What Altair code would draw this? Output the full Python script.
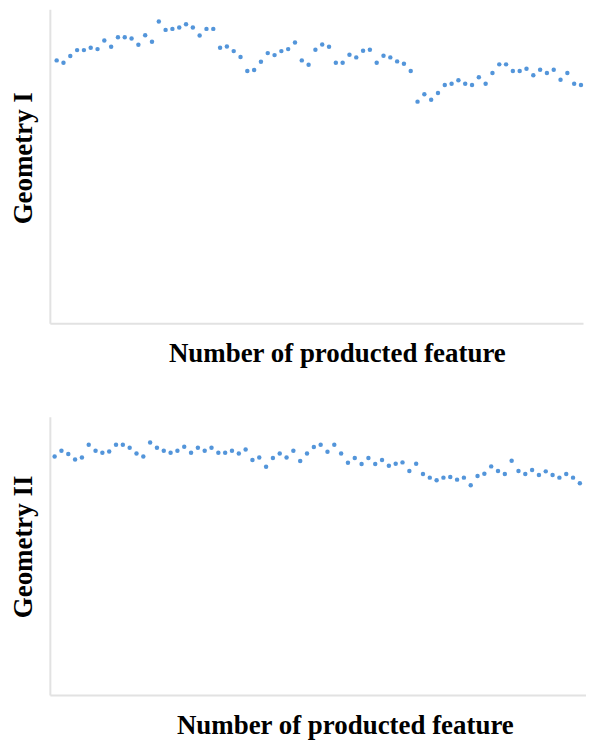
import altair as alt
import pandas as pd

geom1 = [263.7, 261.3, 268, 274, 274, 276.3, 275, 283.7, 277.3, 287,
         287, 285.7, 279.3, 289, 282.3, 302.7, 294.3, 295.3, 296.7, 300,
         296.7, 288.7, 295.3, 295.3, 276.3, 277.7, 273, 267, 253, 254,
         262.3, 271, 269, 273, 275, 281.7, 263.7, 259.3, 274.3, 279.7,
         277.3, 261.3, 261.3, 269.3, 266.7, 273.3, 274.3, 261.3, 268.3, 266.7,
         262.7, 260.3, 253, 222.3, 229.7, 224.3, 231, 239, 240.3, 243.7,
         240.3, 239, 246.7, 240.3, 251, 259.7, 259.7, 253, 253, 255.3,
         248.7, 254.3, 251, 254.3, 244.3, 251, 240.3, 239]

# Panel II measurements
geom2 = [244.3, 250, 246.7, 241.3, 243.3, 256, 250, 248, 249.3, 256,
         256, 253, 247.3, 244.3, 258.3, 253, 250, 248, 250, 254,
         248, 253, 250, 253, 248, 248, 250, 247.3, 251.3, 240.7,
         243.3, 234, 242.7, 247.3, 243.3, 250, 239.7, 247.3, 253.7, 256,
         249, 256, 247.3, 238, 242.7, 236.7, 242.7, 236.7, 240.7, 235,
         237, 238.3, 229.7, 237, 226.7, 223, 220.3, 223, 223.7, 221,
         223, 215.3, 224.7, 227, 234.3, 229.7, 226.7, 240, 229.7, 226.7,
         230.7, 225.7, 229.3, 225.7, 223, 226.7, 223, 217.3]

x_title = "Number of producted feature"
y_titles = ["Geometry I", "Geometry II"]

df1 = pd.DataFrame({"n": list(range(1, len(geom1) + 1)), "v": geom1})
df2 = pd.DataFrame({"n": list(range(1, len(geom2) + 1)), "v": geom2})

FONT = "Liberation Serif"
DOT = "#4a8fd8"


def panel(df, ytitle, xdom, ydom, w, h, xtitle_x, xtitle_y, ytitle_x, ytitle_y, min_ext):
    return alt.Chart(df).mark_point(
        filled=True, size=20, color=DOT, opacity=0.95
    ).encode(
        x=alt.X("n:Q", scale=alt.Scale(domain=xdom, nice=False, zero=False),
                axis=alt.Axis(title=x_title, ticks=False, labels=False, grid=False,
                              titleX=xtitle_x, titleY=xtitle_y,
                              titleBaseline="alphabetic")),
        y=alt.Y("v:Q", scale=alt.Scale(domain=ydom, nice=False, zero=False),
                axis=alt.Axis(title=ytitle, ticks=False, labels=False, grid=False,
                              titleX=ytitle_x, titleY=ytitle_y,
                              titleBaseline="alphabetic", minExtent=min_ext)),
    ).properties(width=w, height=h)


p1 = panel(df1, y_titles[0], [0, 78.3], [0, 315], 535, 315, 288, 38, -18.3, 149, 43)
p2 = panel(df2, y_titles[1], [0.3, 78.9], [5, 284], 538, 279, 296, 39, -18.4, 130, 30)

chart = alt.vconcat(p1, p2, spacing=51).properties(
    padding={"left": -1, "top": 0, "right": 0, "bottom": 0}
).configure_view(stroke=None).configure_axis(
    domainColor="#e2e2e2", domainWidth=2,
    titleFont=FONT, titleFontSize=27, titleFontWeight="bold", titleColor="#000000"
)

chart.save("out.html", embed_options={"renderer": "svg", "actions": False})
